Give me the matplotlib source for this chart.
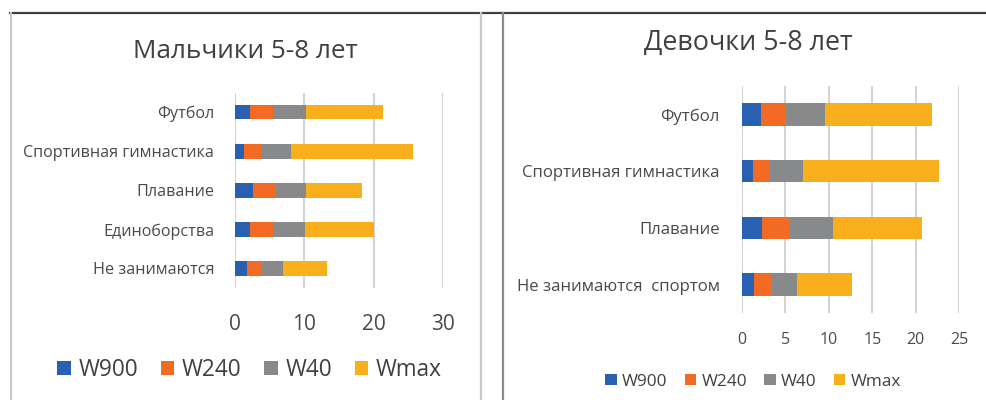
import matplotlib
matplotlib.use("Agg")
import matplotlib.pyplot as plt
from matplotlib.lines import Line2D

plt.rcParams['font.family'] = ['Open Sans', 'DejaVu Sans']

series = ["W900", "W240", "W40", "Wmax"]
colors = ["#2A60B2", "#F26A24", "#87898B", "#F9AE1C"]

boys_cats = ["Футбол", "Спортивная гимнастика", "Плавание", "Единоборства", "Не занимаются"]
boys_w900 = [2.2, 1.3, 2.6, 2.2, 1.7]
boys_w240 = [3.3, 2.4, 3.25, 3.3, 2.2]
boys_w40 = [4.7, 4.35, 4.35, 4.6, 3.05]
boys_wmax = [11.1, 17.55, 8.1, 9.95, 6.35]
boys_ticks = [0, 10, 20, 30]

girls_cats = ["Футбол", "Спортивная гимнастика", "Плавание", "Не занимаются  спортом"]
girls_w900 = [2.2, 1.25, 2.35, 1.4]
girls_w240 = [2.85, 1.95, 3.2, 1.95]
girls_w40 = [4.5, 3.85, 4.95, 2.95]
girls_wmax = [12.35, 15.6, 10.2, 6.4]
girls_ticks = [0, 5, 10, 15, 20, 25]

W, H = 986, 400
fig = plt.figure(figsize=(W / 100, H / 100), dpi=100)
fig.patch.set_facecolor("white")


def px_axes(x0, x1, ytop, ybot):
    return fig.add_axes([x0 / W, 1 - ybot / H, (x1 - x0) / W, (ybot - ytop) / H])


def draw(ax, cats, data, ticks, bar_h, tick_fs, cat_fs, xpad, ypad):
    y = list(range(len(cats)))
    left = [0.0] * len(cats)
    handles = []
    for name, vals, c in zip(series, data, colors):
        b = ax.barh(y, vals, left=left, height=bar_h, color=c, label=name, zorder=3)
        handles.append(b)
        left = [l + v for l, v in zip(left, vals)]
    ax.set_ylim(len(cats) - 0.5, -0.5)
    ax.set_xlim(ticks[0], ticks[-1])
    ax.set_xticks(ticks)
    ax.set_yticks(y)
    ax.set_yticklabels(cats)
    for s in ax.spines.values():
        s.set_visible(False)
    ax.grid(axis="x", color="#D4D4D4", linewidth=1.5, zorder=0)
    ax.tick_params(axis="both", length=0, colors="#4A4A4A")
    ax.tick_params(axis="x", labelsize=tick_fs, pad=xpad)
    ax.tick_params(axis="y", labelsize=cat_fs, pad=ypad)
    return handles


ax1 = px_axes(235, 443.3, 92.5, 288)
h1 = draw(ax1, boys_cats, [boys_w900, boys_w240, boys_w40, boys_wmax], boys_ticks,
          0.38, 15, 11.6, 19, 15)
ax2 = px_axes(742, 959.3, 86, 313)
h2 = draw(ax2, girls_cats, [girls_w900, girls_w240, girls_w40, girls_wmax], girls_ticks,
          0.4, 11.5, 12.1, 14, 16)

fig.text(245.5 / W, 1 - 51 / H, "Мальчики 5-8 лет", ha="center", va="center",
         fontsize=18.8, color="#404040")
fig.text(748 / W, 1 - 43 / H, "Девочки 5-8 лет", ha="center", va="center",
         fontsize=19.4, color="#404040")

fig.legend(handles=h1, labels=series, loc="center", bbox_to_anchor=(249.5 / W, 1 - 370 / H),
           ncol=4, frameon=False, fontsize=16.3, handlelength=0.6, handleheight=0.6,
           handletextpad=0.34, columnspacing=1.0, labelcolor="#404040")
fig.legend(handles=h2, labels=series, loc="center", bbox_to_anchor=(753 / W, 1 - 381.5 / H),
           ncol=4, frameon=False, fontsize=12.4, handlelength=0.66, handleheight=0.66,
           handletextpad=0.31, columnspacing=1.0, labelcolor="#404040")

# panel borders
fig.add_artist(Line2D([10 / W, 1], [1 - 12.5 / H] * 2, color="#404040", linewidth=1.6))
fig.add_artist(Line2D([11 / W] * 2, [0, 1 - 12.5 / H], color="#C8C8C8", linewidth=1.6))
fig.add_artist(Line2D([480.5 / W] * 2, [0, 1 - 12.5 / H], color="#C8C8C8", linewidth=1.6))
fig.add_artist(Line2D([502.7 / W] * 2, [0, 1 - 12.5 / H], color="#8C8C8C", linewidth=1.6))

fig.savefig("out.png", dpi=100)
